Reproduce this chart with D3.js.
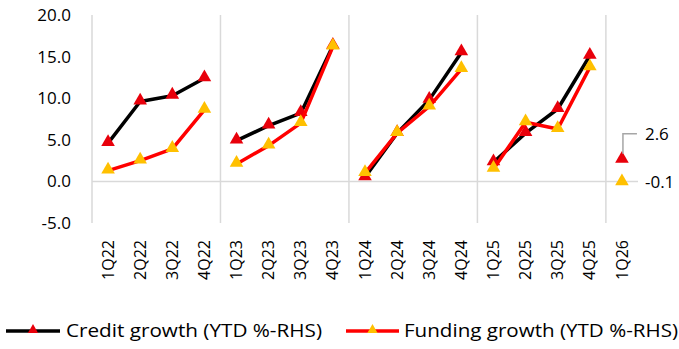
<!DOCTYPE html>
<html>
<head>
<meta charset="utf-8">
<script src="https://cdn.jsdelivr.net/npm/d3@7"></script>
<style>
  html, body { margin: 0; padding: 0; background: #fff; }
  svg { display: block; font-family: "Open Sans", "Noto Sans", sans-serif; }
</style>
</head>
<body>
<svg id="chart" width="679" height="349"></svg>
<script>
// Quarterly periods, grouped by year
const quarters = ["1Q22","2Q22","3Q22","4Q22","1Q23","2Q23","3Q23","4Q23",
                  "1Q24","2Q24","3Q24","4Q24","1Q25","2Q25","3Q25","4Q25","1Q26"];
// YTD growth (%), resets every year
const creditGrowth  = [4.6, 9.6, 10.3, 12.4, 4.9, 6.7, 8.2, 16.3, 0.5, 5.8, 9.8, 15.5, 2.3, 5.8, 8.7, 15.1, 2.6];
const fundingGrowth = [1.3, 2.5, 3.9, 8.6, 2.1, 4.3, 7.0, 16.2, 1.0, 5.8, 9.0, 13.5, 1.5, 7.1, 6.3, 13.7, -0.1];
const yTicks = [-5, 0, 5, 10, 15, 20];
const seriesNames = ["Credit growth (YTD %-RHS)", "Funding growth (YTD %-RHS)"];

const svg = d3.select("#chart");
const plot = { left: 92, right: 638, top: 15, bottom: 223 };

const x = d3.scaleBand().domain(quarters).range([plot.left, plot.right]).padding(0);
const cx = q => x(q) + x.bandwidth() / 2;
const y = d3.scaleLinear().domain([-5, 20]).range([plot.bottom, plot.top]);

// One decimal, plain hyphen for negatives
const fmt = v => d3.format(".1f")(v).replace("\u2212", "-");

const grid = "#d9d9d9";

// Year separators
const yearStarts = quarters.filter(q => q.startsWith("1Q"));
svg.append("g").selectAll("line").data(yearStarts).join("line")
  .attr("x1", d => x(d)).attr("x2", d => x(d))
  .attr("y1", plot.top).attr("y2", plot.bottom)
  .attr("stroke", grid).attr("stroke-width", 1.5);

// Zero baseline
svg.append("line")
  .attr("x1", plot.left).attr("x2", plot.right)
  .attr("y1", y(0)).attr("y2", y(0))
  .attr("stroke", grid).attr("stroke-width", 1.5);

// Y axis labels
const yAxis = d3.axisLeft(y).tickValues(yTicks).tickFormat(fmt).tickSize(0).tickPadding(0);
const yg = svg.append("g").attr("transform", "translate(71,0)").call(yAxis);
yg.select(".domain").remove();
yg.selectAll("text").attr("font-size", 17).attr("fill", "#000")
  .attr("font-family", "'Open Sans', 'Noto Sans', sans-serif");

// X axis labels (rotated)
const xAxis = d3.axisBottom(x).tickSize(0).tickPadding(0);
const xg = svg.append("g").attr("transform", "translate(0,240)").call(xAxis);
xg.select(".domain").remove();
xg.selectAll("text")
  .attr("font-size", 16).attr("fill", "#000")
  .attr("font-family", "'Open Sans', 'Noto Sans', sans-serif")
  .attr("transform", "rotate(-90)")
  .attr("text-anchor", "end")
  .attr("dy", "0.35em").attr("y", 0).attr("x", 0);

// Lines broken by year; markers on every point
const yearOf = q => q.slice(2);
const tri = d3.symbol().type(d3.symbolTriangle).size(80);

function drawSeries(values, lineColor, markerColor) {
  const pts = quarters.map((q, i) => ({ q, v: values[i], yr: yearOf(q) }));
  const groups = d3.groups(pts, d => d.yr);
  const line = d3.line().x(d => cx(d.q)).y(d => y(d.v));
  svg.append("g").selectAll("path").data(groups.filter(g => g[1].length > 1)).join("path")
    .attr("d", g => line(g[1]))
    .attr("fill", "none").attr("stroke", lineColor).attr("stroke-width", 3.5)
    .attr("stroke-linejoin", "round");
  svg.append("g").selectAll("path").data(pts).join("path")
    .attr("d", tri)
    .attr("transform", d => `translate(${cx(d.q)},${y(d.v) - 1})`)
    .attr("fill", markerColor);
}
drawSeries(creditGrowth, "#000000", "#e8000b");
drawSeries(fundingGrowth, "#ff0000", "#ffc000");

// Value labels for the latest quarter
const last = quarters[quarters.length - 1];
const lx = cx(last);
const cLast = creditGrowth[creditGrowth.length - 1];
const fLast = fundingGrowth[fundingGrowth.length - 1];
svg.append("path")
  .attr("d", `M${lx + 1},${y(cLast) - 6} V${y(cLast) - 26} H${lx + 15}`)
  .attr("fill", "none").attr("stroke", "#a6a6a6").attr("stroke-width", 1.5);
svg.append("text").attr("x", lx + 23).attr("y", y(cLast) - 26).attr("dy", "0.35em")
  .attr("font-size", 17).text(fmt(cLast));
svg.append("text").attr("x", lx + 23).attr("y", y(fLast)).attr("dy", "0.35em")
  .attr("font-size", 17).text(fmt(fLast));

// Legend
const legend = [
  { name: seriesNames[0], line: "#000000", marker: "#e8000b", x0: 6, x1: 60, tx: 66, w: 256 },
  { name: seriesNames[1], line: "#ff0000", marker: "#ffc000", x0: 346, x1: 399, tx: 404, w: 274 }
];
const ly = 331;
const lg = svg.append("g");
legend.forEach(d => {
  lg.append("line").attr("x1", d.x0).attr("x2", d.x1).attr("y1", ly).attr("y2", ly)
    .attr("stroke", d.line).attr("stroke-width", 3.5);
  lg.append("path").attr("d", d3.symbol().type(d3.symbolTriangle).size(45))
    .attr("transform", `translate(${(d.x0 + d.x1) / 2},${ly - 1})`).attr("fill", d.marker);
  lg.append("text").attr("x", d.tx).attr("y", ly).attr("dy", "0.35em")
    .attr("font-size", 18).attr("textLength", d.w).attr("lengthAdjust", "spacingAndGlyphs")
    .text(d.name);
});
</script>
</body>
</html>
